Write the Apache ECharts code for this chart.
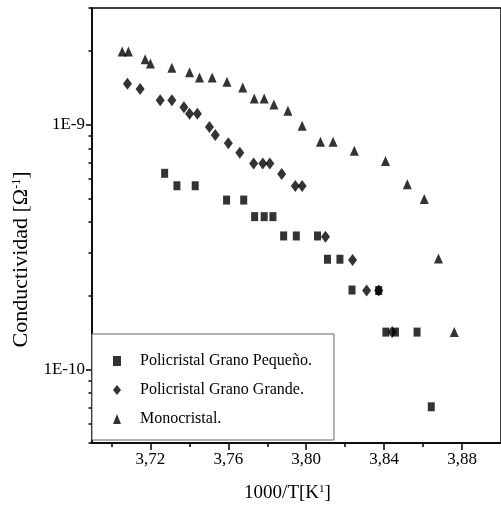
<!DOCTYPE html>
<html>
<head>
<meta charset="utf-8">
<script src="https://cdn.jsdelivr.net/npm/echarts@6/dist/echarts.min.js"></script>
<style>html,body{margin:0;padding:0;background:#fff;}#c{width:501px;height:508px;}</style>
</head>
<body>
<div id="c"></div>
<script>
// Policristal Grano Pequeño (squares)
const smallX = [3.7273, 3.7336, 3.7430, 3.7591, 3.7679, 3.7735, 3.7784, 3.7829, 3.7884, 3.7949, 3.8058, 3.8109, 3.8173, 3.8235, 3.8372, 3.8409, 3.8458, 3.8569, 3.8642];
const smallY = [6.33e-10, 5.63e-10, 5.63e-10, 4.92e-10, 4.92e-10, 4.21e-10, 4.21e-10, 4.21e-10, 3.51e-10, 3.51e-10, 3.51e-10, 2.82e-10, 2.82e-10, 2.11e-10, 2.10e-10, 1.42e-10, 1.42e-10, 1.42e-10, 7.03e-11];
// Policristal Grano Grande (diamonds)
const largeX = [3.7082, 3.7147, 3.7250, 3.7310, 3.7372, 3.7401, 3.7441, 3.7503, 3.7533, 3.7600, 3.7659, 3.7730, 3.7777, 3.7813, 3.7874, 3.7944, 3.7979, 3.8099, 3.8238, 3.8310, 3.8372, 3.8441];
const largeY = [1.47e-9, 1.40e-9, 1.26e-9, 1.26e-9, 1.18e-9, 1.11e-9, 1.11e-9, 9.78e-10, 9.08e-10, 8.39e-10, 7.68e-10, 6.95e-10, 6.95e-10, 6.95e-10, 6.29e-10, 5.62e-10, 5.62e-10, 3.48e-10, 2.80e-10, 2.10e-10, 2.10e-10, 1.42e-10];
// Monocristal (triangles)
const monoX = [3.7055, 3.7087, 3.7173, 3.7200, 3.7310, 3.7401, 3.7452, 3.7517, 3.7593, 3.7674, 3.7733, 3.7784, 3.7834, 3.7906, 3.7979, 3.8073, 3.8138, 3.8247, 3.8407, 3.8519, 3.8606, 3.8679, 3.8760];
const monoY = [1.99e-9, 1.99e-9, 1.85e-9, 1.78e-9, 1.71e-9, 1.64e-9, 1.56e-9, 1.56e-9, 1.50e-9, 1.42e-9, 1.28e-9, 1.28e-9, 1.21e-9, 1.14e-9, 0.99e-9, 8.52e-10, 8.52e-10, 7.83e-10, 7.11e-10, 5.71e-10, 4.97e-10, 2.84e-10, 1.42e-10];

const seriesNames = ['Policristal Grano Pequeño.', 'Policristal Grano Grande.', 'Monocristal.'];
const xMajorTicks = [3.72, 3.76, 3.80, 3.84, 3.88];
const xMinorTicks = [3.70, 3.74, 3.78, 3.82, 3.86];
const yMajorTicks = [1e-10, 1e-9];
const yMinorTicks = [5e-11, 6e-11, 7e-11, 8e-11, 9e-11, 2e-10, 3e-10, 4e-10, 5e-10, 6e-10, 7e-10, 8e-10, 9e-10, 2e-9, 3e-9];

const zip = (xs, ys) => xs.map((x, i) => [x, ys[i]]);
const FONT = 'Liberation Serif';

const chart = echarts.init(document.getElementById('c'), null, {renderer: 'canvas'});
chart.setOption({
  animation: false,
  backgroundColor: '#fff',
  grid: {left: 92, top: 8, right: -24, bottom: 64, show: true, borderColor: '#000', borderWidth: 1.5, backgroundColor: 'transparent'},
  xAxis: [{
    type: 'value', min: 3.69, max: 3.90, position: 'bottom',
    splitLine: {show: false},
    axisLine: {lineStyle: {color: '#000', width: 1.5}},
    axisTick: {length: 7, customValues: xMajorTicks, lineStyle: {color: '#000', width: 1.5}},
    axisLabel: {customValues: xMajorTicks, margin: 8, color: '#000', fontFamily: FONT, fontSize: 17,
      formatter: v => v.toFixed(2).replace('.', ',')},
    name: '{a|1000/T[K}{s|1}{a|]}', nameLocation: 'middle', nameGap: 41,
    nameTextStyle: {padding: [0, 18, 0, 0], rich: {
      a: {fontFamily: FONT, fontSize: 19, color: '#000'},
      s: {fontFamily: FONT, fontSize: 11, color: '#000', verticalAlign: 'top'}
    }}
  }, {
    type: 'value', min: 3.69, max: 3.90, position: 'bottom', gridIndex: 0,
    splitLine: {show: false},
    axisLine: {show: false},
    axisTick: {length: 4, customValues: xMinorTicks, lineStyle: {color: '#000', width: 1.5}},
    axisLabel: {show: false}
  }],
  yAxis: [{
    type: 'log', min: 5e-11, max: 3e-9, position: 'left',
    splitLine: {show: false},
    axisLine: {lineStyle: {color: '#000', width: 1.5}},
    axisTick: {length: 6, customValues: yMajorTicks, lineStyle: {color: '#000', width: 1.5}},
    axisLabel: {customValues: yMajorTicks, margin: 7, color: '#000', fontFamily: FONT, fontSize: 17,
      formatter: v => v < 5e-10 ? '1E-10' : '1E-9'},
    name: '{a|Conductividad [Ω}{s|-1}{a|]}', nameLocation: 'middle', nameGap: 59,
    nameTextStyle: {padding: [0, 68, 0, 0], rich: {
      a: {fontFamily: FONT, fontSize: 22, color: '#000'},
      s: {fontFamily: FONT, fontSize: 12, color: '#000', verticalAlign: 'top'}
    }}
  }, {
    type: 'log', min: 5e-11, max: 3e-9, position: 'left', gridIndex: 0,
    splitLine: {show: false},
    axisLine: {show: false},
    axisTick: {length: 3.5, customValues: yMinorTicks, lineStyle: {color: '#000', width: 1.5}},
    axisLabel: {show: false}
  }],
  legend: {
    orient: 'vertical', left: 92, top: 334,
    padding: [19, 22, 13, 21], itemGap: 13,
    itemWidth: 8, itemHeight: 10,
    borderColor: '#666', borderWidth: 1, backgroundColor: '#fff',
    textStyle: {fontFamily: FONT, fontSize: 16, color: '#000', padding: [0, 0, 0, 14]},
    data: seriesNames
  },
  series: [
    {name: seriesNames[0], type: 'scatter', symbol: 'rect', symbolSize: [7, 9], itemStyle: {color: '#000'}, data: zip(smallX, smallY)},
    {name: seriesNames[1], type: 'scatter', symbol: 'diamond', symbolSize: [9, 12], itemStyle: {color: '#000'}, data: zip(largeX, largeY)},
    {name: seriesNames[2], type: 'scatter', symbol: 'triangle', symbolSize: [9, 10], itemStyle: {color: '#000'}, data: zip(monoX, monoY)}
  ]
});
</script>
</body>
</html>
